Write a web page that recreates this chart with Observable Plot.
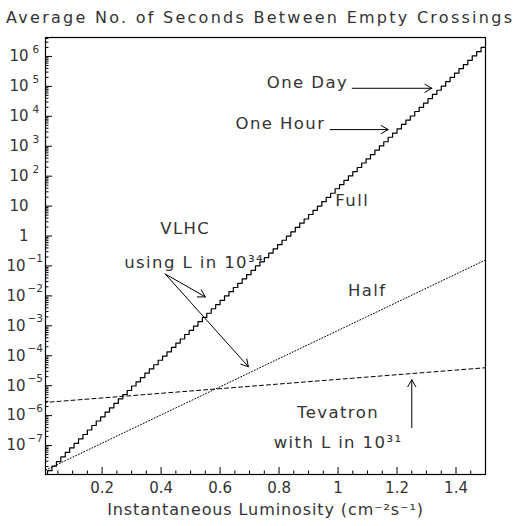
<!DOCTYPE html>
<html><head><meta charset="utf-8">
<script src="https://cdn.jsdelivr.net/npm/d3@7"></script>
<script src="https://cdn.jsdelivr.net/npm/@observablehq/plot@0.6"></script>
<style>body{margin:0;background:#fff}svg{display:block}</style>
</head><body><div id="chart"></div>
<script>
// ---- data ----
const fullBinStart = 0;
const fullBinWidth = 0.015;
// log10(seconds) of each histogram bin of the "Full" VLHC curve
const fullLog10 = [
-8.00,-7.84,-7.69,-7.54,-7.38,-7.23,-7.08,-6.93,-6.78,-6.63,
-6.48,-6.33,-6.18,-6.04,-5.88,-5.74,-5.59,-5.44,-5.30,-5.16,
-5.01,-4.87,-4.73,-4.58,-4.44,-4.30,-4.15,-4.01,-3.87,-3.72,
-3.58,-3.44,-3.29,-3.15,-3.01,-2.86,-2.72,-2.58,-2.43,-2.29,
-2.15,-2.00,-1.86,-1.72,-1.58,-1.43,-1.29,-1.15,-1.00,-0.86,
-0.72,-0.57,-0.43,-0.29,-0.14,0.00,0.14,0.29,0.43,0.57,
0.72,0.86,1.00,1.15,1.29,1.43,1.58,1.72,1.86,2.01,
2.15,2.29,2.44,2.58,2.72,2.87,3.01,3.15,3.30,3.44,
3.58,3.73,3.87,4.01,4.16,4.30,4.44,4.59,4.73,4.87,
5.01,5.16,5.30,5.44,5.59,5.73,5.87,6.02,6.16,6.30
];
const halfL = [0, 1.5];
const halfLog10 = [-7.86, -0.80];
const tevL = [0, 1.5];
const tevLog10 = [-5.565, -4.40];

const xTickLabels = [0.2, 0.4, 0.6, 0.8, 1, 1.2, 1.4];
const yExponents = [-7, -6, -5, -4, -3, -2, -1, 0, 1, 2, 3, 4, 5, 6];

const titleText = "Average No. of Seconds Between Empty Crossings";
const xTitle = "Instantaneous Luminosity (cm\u207B\u00B2s\u207B\u00B9)";

const noteText = ["One Day", "One Hour", "Full", "VLHC", "using L in 10\u00B3\u2074", "Half", "Tevatron", "with L in 10\u00B3\u00B9"];
const noteL    = [1.034, 0.957, 1.048, 0.482, 0.512, 1.099, 1.000, 1.000];
const noteY    = [1.31e5, 5620, 14.7, 1.71, 0.126, 0.0147, 1.26e-6, 1.26e-7];
const noteAnchor = ["end", "end", "middle", "middle", "middle", "middle", "middle", "middle"];

const arrowL1 = [1.048, 0.973, 0.414, 0.414, 1.250];
const arrowY1 = [86400, 3600, 0.054, 0.054, 4.0e-7];
const arrowL2 = [1.318, 1.170, 0.550, 0.696, 1.250];
const arrowY2 = [86400, 3600, 0.00926, 4.3e-5, 1.58e-5];

// ---- build ----
const W = 517, H = 526, mL = 45, mR = 32, mT = 37, mB = 52;
const fw = W - mL - mR, fh = H - mT - mB;

const fullData = fullLog10.map((v, i) => ({L: fullBinStart + i * fullBinWidth, s: 10 ** v}));
fullData.push({L: fullBinStart + fullLog10.length * fullBinWidth, s: 10 ** fullLog10[fullLog10.length - 1]});
const halfData = halfL.map((L, i) => ({L, s: 10 ** halfLog10[i]}));
const tevData = tevL.map((L, i) => ({L, s: 10 ** tevLog10[i]}));
const notes = noteText.map((t, i) => ({t, L: noteL[i], s: noteY[i], a: noteAnchor[i]}));
const arrows = arrowL1.map((L1, i) => ({L1, s1: arrowY1[i], L2: arrowL2[i], s2: arrowY2[i]}));

const yMajor = yExponents.map(n => 10 ** n);
const yMinor = [];
for (let n = -8; n <= 6; n++) for (let k = 2; k <= 9; k++) yMinor.push(k * 10 ** n);
const xMinor = d3.range(1, 30).map(i => i * 0.05).filter(v => Math.abs(v * 5 - Math.round(v * 5)) > 1e-6);

const font = "DejaVu Sans";
const ink = "#333";
const yDomain = [10 ** -7.967, 10 ** 6.633];
const posExp = yExponents.filter(n => n > 1);
const negExp = yExponents.filter(n => n < 0);
const plainExp = yExponents.filter(n => n === 0 || n === 1);

const plot = Plot.plot({
  width: W, height: H,
  marginLeft: mL, marginRight: mR, marginTop: mT, marginBottom: mB,
  style: {fontFamily: font, fontSize: "15px", background: "white", overflow: "visible", color: "black"},
  x: {domain: [0.008, 1.5], axis: null},
  y: {type: "log", domain: yDomain, axis: null},
  marks: [
    Plot.tickY(yMajor, {y: d => d, insetRight: fw - 7, stroke: "black", strokeWidth: 1}),
    Plot.tickY(yMinor.filter(v => v > yDomain[0] && v < yDomain[1]), {y: d => d, insetRight: fw - 3.5, stroke: "black", strokeWidth: 1}),
    Plot.tickX(xTickLabels, {x: d => d, insetTop: fh - 7, stroke: "black", strokeWidth: 1}),
    Plot.tickX(xMinor, {x: d => d, insetTop: fh - 3.5, stroke: "black", strokeWidth: 1}),
    Plot.line(tevData, {x: "L", y: "s", stroke: "black", strokeWidth: 1, strokeDasharray: "4,3", clip: true}),
    Plot.line(halfData, {x: "L", y: "s", stroke: "black", strokeWidth: 1, strokeDasharray: "1,2", clip: true}),
    Plot.line(fullData, {x: "L", y: "s", curve: "step-after", stroke: "black", strokeWidth: 1.2, clip: true}),
    Plot.arrow(arrows, {x1: "L1", y1: "s1", x2: "L2", y2: "s2", stroke: "black", strokeWidth: 1, headLength: 12, headAngle: 60}),
    Plot.text(notes.filter(d => d.a === "end"), {x: "L", y: "s", text: "t", textAnchor: "end", fontSize: 16.5, fill: ink}),
    Plot.text(notes.filter(d => d.a === "middle"), {x: "L", y: "s", text: "t", textAnchor: "middle", fontSize: 16.5, fill: ink}),
    // y tick labels: base "10" / "1" and exponent
    Plot.text(plainExp, {y: n => 10 ** n, text: n => n === 0 ? "1" : "10", frameAnchor: "left", textAnchor: "end", dx: -17, fill: ink, fontSize: 15}),
    Plot.text(posExp, {y: n => 10 ** n, text: () => "10", frameAnchor: "left", textAnchor: "end", dx: -17, fill: ink, fontSize: 15}),
    Plot.text(posExp, {y: n => 10 ** n, text: n => String(n), frameAnchor: "left", textAnchor: "start", dx: -13, dy: -7, fill: ink, fontSize: 10.5}),
    Plot.text(negExp, {y: n => 10 ** n, text: () => "10", frameAnchor: "left", textAnchor: "end", dx: -20, fill: ink, fontSize: 15}),
    Plot.text(negExp, {y: n => 10 ** n, text: n => String(n).replace("-", "\u2212"), frameAnchor: "left", textAnchor: "start", dx: -18, dy: -7, fill: ink, fontSize: 10.5}),
    Plot.text(xTickLabels, {x: d => d, text: d => String(d), frameAnchor: "bottom", dy: 18, fill: ink, fontSize: 15}),
    Plot.text([xTitle], {text: d => d, frameAnchor: "bottom", dy: 40, fill: ink, fontSize: 16}),
    Plot.text([titleText], {text: d => d, frameAnchor: "top", dx: -6.5, dy: -26, fill: ink, fontSize: 16}),
    Plot.frame({stroke: "black", strokeWidth: 1.2})
  ]
});

const allText = d3.select(plot).selectAll("text");
allText.filter(function () { return this.textContent === titleText; })
  .attr("textLength", 506).attr("lengthAdjust", "spacing");
allText.filter(function () { return noteText.includes(this.textContent); })
  .style("letter-spacing", "1.4px");
allText.filter(function () { return this.textContent === xTitle; })
  .style("letter-spacing", "0.9px");
document.getElementById("chart").appendChild(plot);
</script>
</body></html>
